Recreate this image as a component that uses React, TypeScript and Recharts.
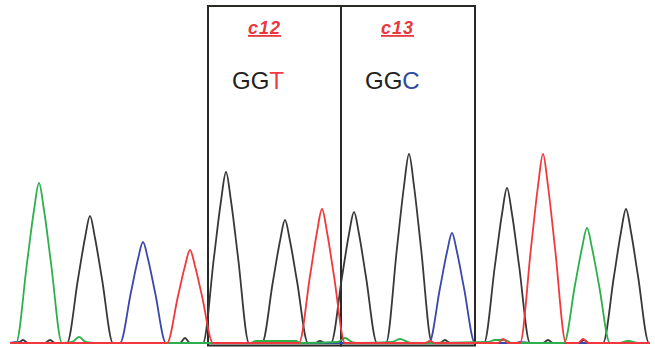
import React from 'react';
import { LineChart, Line, XAxis, YAxis, ReferenceArea } from 'recharts';

// trace points as [scan position, signal]
const greenTrace: [number, number][] = [
  [10, 0], [16, 0], [27, 80], [34, 133], [39, 160], [44, 133], [51, 80], [62, 0],
  [72, 1], [79, 6], [86, 1], [95, 0], [250, 0], [256, 2], [296, 2], [300, 0],
  [338, 1], [345, 5], [352, 1], [360, 0], [392, 1], [400, 4], [408, 1], [414, 0],
  [488, 1], [495, 3], [505, 3], [512, 0],
  [564, 0], [575, 58], [582, 95], [587, 115], [592, 95], [599, 58], [610, 0],
  [618, 0], [628, 2], [640, 0], [650, 0],
];

const blackTrace: [number, number][] = [
  [10, 0], [18, 0], [23, 3], [28, 0], [45, 0], [50, 3], [55, 0],
  [67, 0], [78, 64], [85, 105], [90, 127], [95, 105], [102, 64], [113, 0],
  [180, 0], [185, 5], [190, 0],
  [203, 0], [214, 86], [221, 142], [226, 171], [231, 142], [238, 86], [249, 0],
  [262, 0], [273, 62], [280, 102], [285, 123], [290, 102], [297, 62], [308, 0],
  [315, 0], [320, 2], [325, 0],
  [331, 0], [342, 66], [349, 109], [354, 131], [359, 109], [366, 66], [377, 0],
  [386, 0], [397, 95], [404, 157], [409, 189], [414, 157], [421, 95], [432, 0],
  [440, 0], [445, 3], [450, 0],
  [484, 0], [495, 78], [502, 129], [507, 155], [512, 129], [519, 78], [530, 0],
  [543, 0], [548, 3], [553, 0], [579, 0], [584, 3], [589, 0],
  [603, 0], [614, 67], [621, 111], [626, 134], [631, 111], [638, 67], [649, 0], [650, 0],
];

const blueTrace: [number, number][] = [
  [10, 0], [18, 1], [24, 0],
  [120, 0], [131, 51], [138, 84], [143, 101], [148, 84], [155, 51], [166, 0],
  [429, 0], [440, 55], [447, 91], [452, 110], [457, 91], [464, 55], [475, 0],
  [515, 0], [520, 1], [530, 0], [650, 0],
];

const redTrace: [number, number][] = [
  [10, 0],
  [167, 0], [178, 47], [185, 77], [190, 93], [195, 77], [202, 47], [213, 0],
  [299, 0], [310, 67], [317, 111], [322, 134], [327, 111], [334, 67], [345, 0],
  [425, 0], [430, 2], [435, 0], [498, 0], [503, 4], [508, 0],
  [520, 0], [531, 95], [538, 157], [543, 189], [548, 157], [555, 95], [566, 0],
  [578, 0], [583, 4], [588, 0], [650, 0],
];

const codonBoxes = [
  { name: 'c12', from: 208, to: 341, bases: 'GG', last: 'T', lastColor: '#ee3a40' },
  { name: 'c13', from: 341, to: 475, bases: 'GG', last: 'C', lastColor: '#2f4aa6' },
];

const toRows = (pts: [number, number][]) => pts.map(([x, v]) => ({ x, v }));

const FONT = '"Liberation Sans", Arial, sans-serif';

const CodonLabel: React.FC<any> = ({ viewBox, name, bases, last, lastColor }) => {
  if (!viewBox) return null;
  const { x, y } = viewBox;
  return (
    <g>
      <text x={x + 40} y={y + 28} fontFamily={FONT} fontSize={18} fontWeight="bold" fontStyle="italic"
        letterSpacing={1} fill="#e8373d" textDecoration="underline">
        {name}
      </text>
      <text x={x + 24} y={y + 83} fontFamily={FONT} fontSize={24} fill="#222">
        {bases}
        <tspan fill={lastColor}>{last}</tspan>
      </text>
    </g>
  );
};

const App: React.FC = () => {
  return (
    <div style={{ width: 655, height: 348, background: '#fff' }}>
      <style>{`body{margin:0}`}</style>
      <LineChart width={655} height={348} margin={{ top: 0, right: 0, bottom: 0, left: 0 }}>
        <XAxis type="number" dataKey="x" domain={[0, 655]} hide allowDuplicatedCategory={false} />
        <YAxis type="number" domain={[-5, 343]} hide />
        <Line data={toRows(blackTrace)} dataKey="v" type="monotone" stroke="#383838" strokeWidth={1.8}
          dot={false} activeDot={false} isAnimationActive={false} />
        <Line data={toRows(blueTrace)} dataKey="v" type="monotone" stroke="#3a47ab" strokeWidth={1.8}
          dot={false} activeDot={false} isAnimationActive={false} />
        <Line data={toRows(greenTrace)} dataKey="v" type="monotone" stroke="#2db04b" strokeWidth={1.8}
          dot={false} activeDot={false} isAnimationActive={false} />
        <Line data={toRows(redTrace)} dataKey="v" type="monotone" stroke="#f2383d" strokeWidth={1.8}
          dot={false} activeDot={false} isAnimationActive={false} />
        {codonBoxes.map((b) => (
          <ReferenceArea key={b.name} x1={b.from} x2={b.to} y1={-2.5} y2={337} fill="none"
            stroke="#2b2925" strokeWidth={2} ifOverflow="visible"
            label={<CodonLabel name={b.name} bases={b.bases} last={b.last} lastColor={b.lastColor} />} />
        ))}
      </LineChart>
    </div>
  );
};

export default App;
